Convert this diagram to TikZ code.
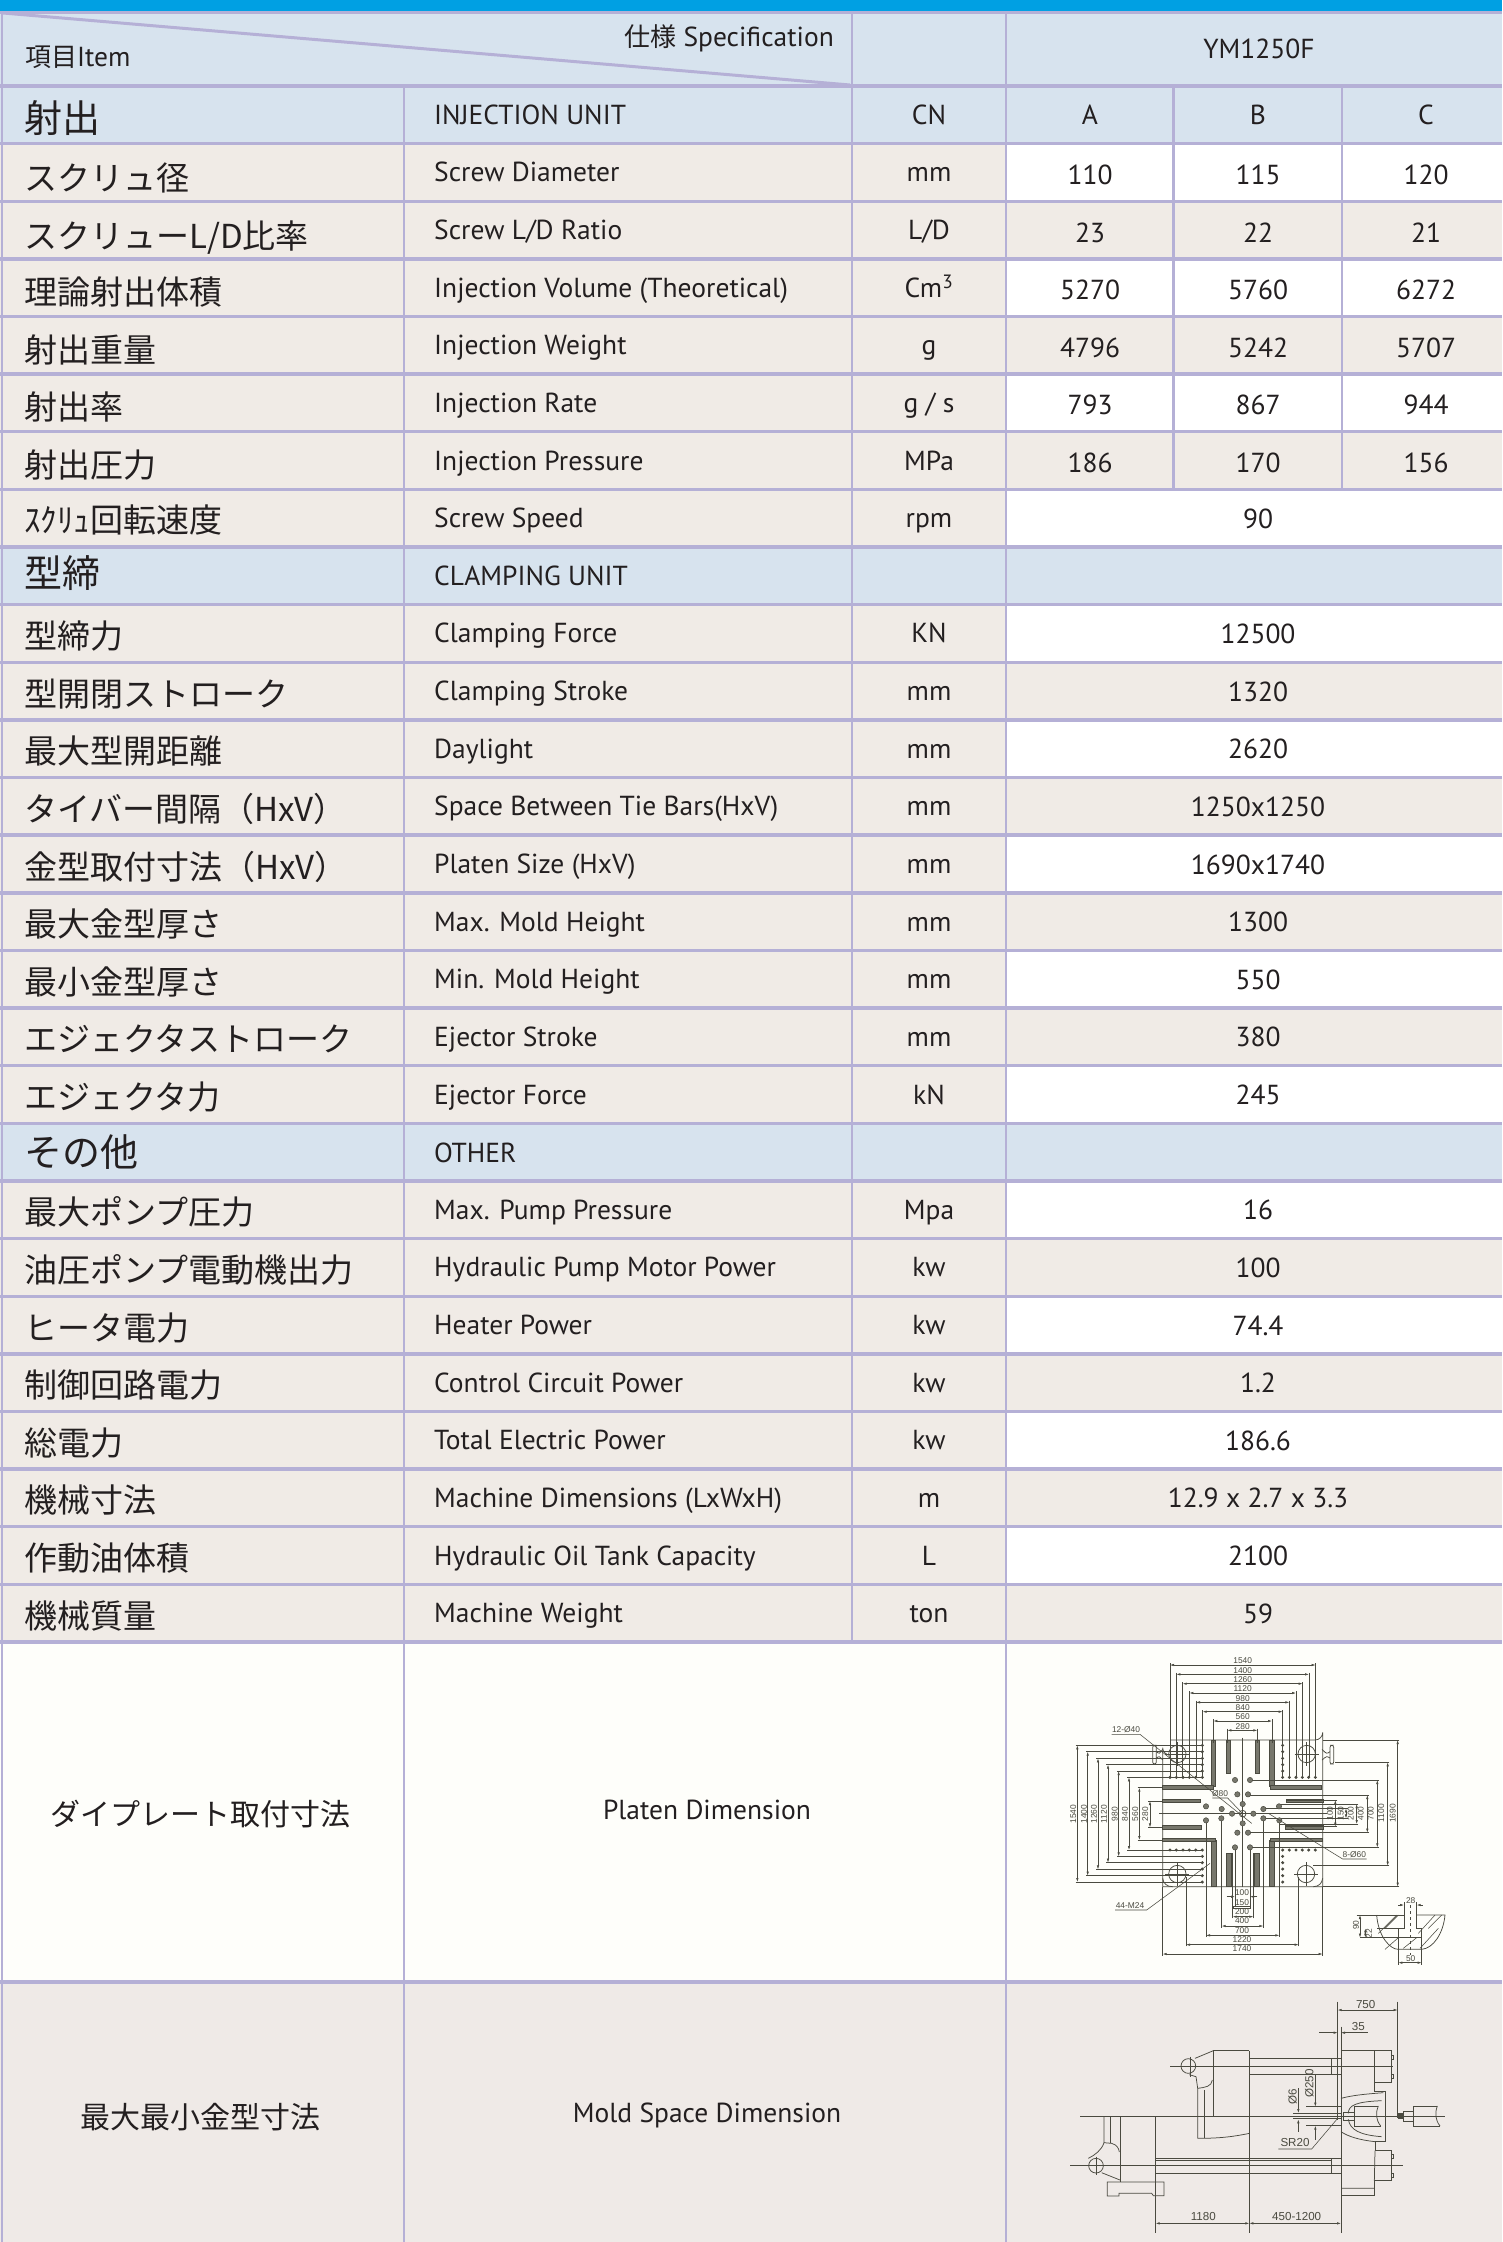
\documentclass[tikz,border=0pt]{standalone}
\usepackage{fontspec}
\usetikzlibrary{arrows.meta}
\setmainfont{PT Sans}
\newfontfamily\cjk{Noto Sans CJK JP}
\newfontfamily\arial{Liberation Sans}
\definecolor{topbar}{HTML}{00A0E3}
\definecolor{hdrblue}{HTML}{D7E3EE}
\definecolor{rowbeige}{HTML}{F0EBE6}
\definecolor{platenbg}{HTML}{FEFEFA}
\definecolor{moldbg}{HTML}{EFEAE7}
\definecolor{gridc}{HTML}{B5B0D6}
\definecolor{inkc}{HTML}{231F20}
\definecolor{drawc}{HTML}{4A4A40}
\definecolor{slotc}{HTML}{77776C}
\tikzset{
  gridln/.style={draw=gridc,line width=3.4pt},
  subln/.style={draw=gridc,line width=2.6pt},
  jptext/.style={anchor=base west,inner sep=0pt,text=inkc,font=\cjk\fontsize{33}{33}\selectfont},
  jphead/.style={anchor=base west,inner sep=0pt,text=inkc,font=\cjk\fontsize{38}{38}\selectfont},
  entext/.style={anchor=base west,inner sep=0pt,text=inkc,font=\fontsize{27.5}{28}\selectfont},
  valtext/.style={anchor=base,inner sep=0pt,text=inkc,font=\fontsize{27.5}{28}\selectfont},
  dw/.style={draw=drawc,line width=0.75pt},
  thin dw/.style={draw=drawc,line width=0.55pt},
  dimar/.style={draw=drawc,line width=0.55pt,{Latex[length=4pt,width=2.4pt]}-{Latex[length=4pt,width=2.4pt]}},
  lab/.style={inner sep=0pt,text=drawc,font=\arial\fontsize{8.4}{9}\selectfont},
  labm/.style={inner sep=0pt,text=drawc,font=\arial\fontsize{11.6}{12}\selectfont},
  slotbar/.style={fill=slotc,draw=drawc,line width=0.4pt},
  hole/.style={fill=slotc,draw=drawc,line width=0.5pt},
  dotc/.style={fill=drawc,draw=none}
}
\begin{document}
\begin{tikzpicture}[x=1pt,y=-1pt]
\useasboundingbox (0,0) rectangle (1502,2242);
\def\pitch{57.63}
\fill[white] (0,0) rectangle (1502,2242);
\fill[topbar] (0,0) rectangle (1502,11);
% header fill
\fill[hdrblue] (0,11) rectangle (1502,86);
% row fills: k / value-column fill
\foreach \k/\lf/\vf in {0/hdrblue/hdrblue,1/rowbeige/white,2/rowbeige/rowbeige,3/rowbeige/white,4/rowbeige/rowbeige,5/rowbeige/white,6/rowbeige/rowbeige,7/rowbeige/white,8/hdrblue/hdrblue,9/rowbeige/white,10/rowbeige/rowbeige,11/rowbeige/white,12/rowbeige/rowbeige,13/rowbeige/white,14/rowbeige/rowbeige,15/rowbeige/white,16/rowbeige/rowbeige,17/rowbeige/white,18/hdrblue/hdrblue,19/rowbeige/white,20/rowbeige/rowbeige,21/rowbeige/white,22/rowbeige/rowbeige,23/rowbeige/white,24/rowbeige/rowbeige,25/rowbeige/white,26/rowbeige/rowbeige}{
  \pgfmathsetmacro\ya{86+\pitch*\k}
  \pgfmathsetmacro\yb{86+\pitch*(\k+1)}
  \fill[\lf] (0,\ya) rectangle (1006,\yb);
  \fill[\vf] (1006,\ya) rectangle (1502,\yb);
}
\fill[platenbg] (0,1642) rectangle (1502,1982);
\fill[moldbg] (0,1982) rectangle (1502,2242);
% grid lines
\draw[gridln] (0,12.5) -- (1502,12.5);
\foreach \k in {0,...,27}{
  \pgfmathsetmacro\ya{86+\pitch*\k}
  \draw[gridln] (0,\ya) -- (1502,\ya);
}
\draw[gridln] (0,1982) -- (1502,1982);
\draw[subln] (2,11) -- (2,2242);
\draw[subln] (404,86) -- (404,2242);
\draw[subln] (852,11) -- (852,1642);
\draw[subln] (1006,11) -- (1006,2242);
\draw[subln] (1173.5,86) -- (1173.5,490);
\draw[subln] (1342,86) -- (1342,490);
\draw[draw=gridc,line width=3pt] (3,13) -- (850,85);
% header text
\node[anchor=base east,inner sep=0pt,text=inkc,font=\fontsize{27.5}{28}\selectfont] (spec) at (834,47) {{\cjk\fontsize{26}{26}\selectfont 仕様} Specification};
\node[anchor=base west,inner sep=0pt,text=inkc,font=\fontsize{27.5}{28}\selectfont] (item) at (25,67) {{\cjk\fontsize{26}{26}\selectfont 項目}Item};
\node[valtext] (model) at (1259,59) {YM1250F};
% rows: k / jp offset / jp / en / unit
\foreach \k/\o/\jp/\en/\un in {
 1/17/スクリュ径/Screw Diameter/mm,
 2/17/スクリューL/D比率/Screw L/D Ratio/L/D}{}
\newcommand{\trow}[6]{%
  \pgfmathsetmacro\yc{86+\pitch*(#1+0.5)}
  \node[jptext] (jp#1) at (24,\yc+#2) {#3};
  \node[entext] (en#1) at (434,\yc+9.5) {#4};
  \node[valtext] (un#1) at (929,\yc+9.5) {#5};
  \node[valtext] (val#1) at (1258,\yc+10) {#6};
}
\newcommand{\hrow}[4]{%
  \pgfmathsetmacro\yc{86+\pitch*(#1+0.5)}
  \node[jphead] (jp#1) at (24,\yc+#2) {#3};
  \node[entext] (en#1) at (434,\yc+10) {#4};
}
\hrow{0}{18}{射出}{INJECTION UNIT}
\node[valtext] (uncn) at (929,125) {CN};
\node[valtext] (hA) at (1090,125) {A};
\node[valtext] (hB) at (1258,125) {B};
\node[valtext] (hC) at (1426,125) {C};
\trow{1}{18}{スクリュ径}{Screw Diameter}{mm}{}
\trow{2}{18}{スクリューL/D比率}{Screw L/D Ratio}{L/D}{}
\trow{3}{17}{理論射出体積}{Injection Volume (Theoretical)}{Cm\textsuperscript{3}}{}
\trow{4}{17}{射出重量}{Injection Weight}{g}{}
\trow{5}{17}{射出率}{Injection Rate}{g / s}{}
\trow{6}{17}{射出圧力}{Injection Pressure}{MPa}{}
\trow{7}{14}{ｽｸﾘｭ回転速度}{Screw Speed}{rpm}{90}
\hrow{8}{12}{型締}{CLAMPING UNIT}
\trow{9}{15}{型締力}{Clamping Force}{KN}{12500}
\trow{10}{15}{型開閉ストローク}{Clamping Stroke}{mm}{1320}
\trow{11}{15}{最大型開距離}{Daylight}{mm}{2620}
\trow{12}{15}{タイバー間隔（HxV）}{Space Between Tie Bars(HxV)}{mm}{1250x1250}
\trow{13}{15}{金型取付寸法（HxV）}{Platen Size (HxV)}{mm}{1690x1740}
\trow{14}{15}{最大金型厚さ}{Max. Mold Height}{mm}{1300}
\trow{15}{15}{最小金型厚さ}{Min. Mold Height}{mm}{550}
\trow{16}{15}{エジェクタストローク}{Ejector Stroke}{mm}{380}
\trow{17}{15}{エジェクタ力}{Ejector Force}{kN}{245}
\hrow{18}{14}{その他}{OTHER}
\trow{19}{15}{最大ポンプ圧力}{Max. Pump Pressure}{Mpa}{16}
\trow{20}{15}{油圧ポンプ電動機出力}{Hydraulic Pump Motor Power}{kw}{100}
\trow{21}{15}{ヒータ電力}{Heater Power}{kw}{74.4}
\trow{22}{15}{制御回路電力}{Control Circuit Power}{kw}{1.2}
\trow{23}{15}{総電力}{Total Electric Power}{kw}{186.6}
\trow{24}{15}{機械寸法}{Machine Dimensions (LxWxH)}{m}{12.9 x 2.7 x 3.3}
\trow{25}{15}{作動油体積}{Hydraulic Oil Tank Capacity}{L}{2100}
\trow{26}{15}{機械質量}{Machine Weight}{ton}{59}
% A B C values
\foreach \k/\a/\b/\c/\n in {1/110/115/120/a,2/23/22/21/b,3/5270/5760/6272/c,4/4796/5242/5707/d,5/793/867/944/e,6/186/170/156/f}{
  \pgfmathsetmacro\yc{86+\pitch*(\k+0.5)+12}
  \node[valtext] (va\n) at (1090,\yc) {\a};
  \node[valtext] (vb\n) at (1258,\yc) {\b};
  \node[valtext] (vc\n) at (1426,\yc) {\c};
}
% bottom cells
\node[inner sep=0pt,text=inkc,font=\cjk\fontsize{30}{30}\selectfont] (pjp) at (200,1814) {ダイプレート取付寸法};
\node[anchor=base,inner sep=0pt,text=inkc,font=\fontsize{27.5}{28}\selectfont] (pen) at (707,1819) {Platen Dimension};
\node[inner sep=0pt,text=inkc,font=\cjk\fontsize{30}{30}\selectfont] (mjp) at (200,2117) {最大最小金型寸法};
\node[anchor=base,inner sep=0pt,text=inkc,font=\fontsize{27.5}{28}\selectfont] (men) at (707,2122) {Mold Space Dimension};
%%%%%%%%%%%%%%%% platen drawing (zoom coordinates, 3x)
\begin{scope}[shift={(1020,1640)},x=0.33333pt,y=-0.33333pt]
 % plate outline
 \draw[dw] (450,300) -- (885,300) arc[start angle=90,end angle=0,radius=23] -- (908,740) -- (428,740) -- (428,323) arc[start angle=180,end angle=90,radius=22];
 \draw[dw] (428,715) .. controls (430,730) and (440,740) .. (458,740);
 \draw[dw] (908,715) .. controls (906,730) and (896,740) .. (880,740);
 % tie bar holes
 \foreach \x/\y in {472/342,860/342,472/702,858/702}{
   \draw[dw] (\x,\y) circle[radius=26];
   \draw[thin dw] (\x-36,\y) -- (\x+36,\y) (\x,\y-36) -- (\x,\y+36);
 }
 % lugs
 \draw[dw,rounded corners=2pt] (398,316) rectangle (409,372);
 \draw[dw] (409,335) .. controls (418,342) .. (428,328);
 \draw[dw] (409,354) .. controls (418,348) .. (428,360);
 \draw[dw,rounded corners=2pt] (930,316) rectangle (941,372);
 \draw[dw] (930,335) .. controls (920,342) .. (906,328);
 \draw[dw] (930,354) .. controls (920,348) .. (906,360);
 % slots
 \foreach \xa/\ya/\xb/\yb in {574/300/587/438, 749/300/762/438, 618/300/632/400, 705/300/719/400,
    574/600/588/740, 749/600/762/740, 620/640/634/740, 704/640/718/740,
    428/436/580/447, 750/436/905/447, 428/478/540/488, 800/478/910/488,
    428/556/545/567, 795/556/910/567, 428/596/585/605, 750/596/908/605}{
   \draw[slotbar] (\xa,\ya) rectangle (\xb,\yb);
 }
 % top dimensions
 \foreach \y/\a/\b/\t/\v in {75/450/887/1540/412,103/469/867/1400/412,131/488/848/1260/412,159/508/828/1120/412,187/528/808/980/412,215/548/788/840/412,243/580/756/560/310,271/622/712/280/310}{
   \draw[dimar] (\a,\y) -- (\b,\y);
   \draw[thin dw] (\a,\y-5) -- (\a,\v) (\b,\y-5) -- (\b,\v);
   \node[lab] at (668,\y-12) {\t};
 }
 % left dimensions
 \foreach \x/\a/\b/\t/\v/\lx in {172/316/726/1540/547/160,203/335/707/1400/547/192,234/355/688/1260/547/222,264/374/668/1120/547/252,296/393/649/980/547/284,327/412/630/840/547/315,358/443/600/560/428/346,390/483/562/280/428/376}{
   \draw[dimar] (\x,\a) -- (\x,\b);
   \draw[thin dw] (\x-5,\a) -- (\v,\a) (\x-5,\b) -- (\v,\b);
   \node[lab,rotate=90] at (\lx,522) {\t};
 }
 % right dimensions
 \foreach \x/\a/\b/\t/\va/\vb/\lx in {1133/300/740/1690/908/908/1118,1103/367/677/1100/945/880/1084,1072/420/622/700/690/690/1052,1042/465/578/400/684/684/1022,1010/492/552/200/777/778/992,978/505/535/150/730/730/962,946/480/560/100/800/795/930}{
   \draw[dimar] (\x,\a) -- (\x,\b);
   \draw[thin dw] (\x+5,\a) -- (\va,\a) (\x+5,\b) -- (\vb,\b);
   \node[lab,rotate=90] at (\lx,520) {\t};
 }
 % bottom dimensions
 \foreach \y/\a/\b/\t/\v in {942/428/908/1740/740,914/498/836/1220/710,886/558/778/700/545,858/605/730/400/535,830/638/700/200/640}{
   \draw[dimar] (\a,\y) -- (\b,\y);
   \draw[thin dw] (\a,\y+5) -- (\a,\v) (\b,\y+5) -- (\b,\v);
   \node[lab] at (666,\y-15) {\t};
 }
 \draw[thin dw] (640,800) rectangle (692,805);
 \node[lab] at (666,788) {150};
 \draw[thin dw] (645,622) -- (645,800) (690,622) -- (690,800);
 \draw[dimar,-{Latex[length=4pt,width=2.4pt]}] (620,770) -- (645,770);
 \draw[dimar,-{Latex[length=4pt,width=2.4pt]}] (712,770) -- (690,770);
 \node[lab] at (666,758) {100};
 % centre lines
 \draw[thin dw] (668,293) -- (668,740) (418,521) -- (920,521);
 % tapped holes
 \foreach \y in {316,335,355,374,393,412}{
   \fill[dotc] (547,\y) circle[radius=5]; \fill[dotc] (788,\y) circle[radius=5];
 }
 \foreach \x in {450,469,489,508,527}{ \fill[dotc] (\x,412) circle[radius=5]; \fill[dotc] (\x,630) circle[radius=5]; }
 \foreach \x in {808,828,847,866,886}{ \fill[dotc] (\x,412) circle[radius=5]; \fill[dotc] (\x,630) circle[radius=5]; }
 \foreach \y in {630,649,668,687,707,726}{
   \fill[dotc] (547,\y) circle[radius=5]; \fill[dotc] (788,\y) circle[radius=5];
 }
 % ejector holes
 \foreach \x/\y in {645/420,690/420,652/463,684/463,668/492,558/499,605/507,636/521,700/521,730/507,777/499,604/535,558/541,668/550,730/535,778/541,652/578,684/578,645/622,690/622}{
   \draw[hole] (\x,\y) circle[radius=8];
 }
 \draw[dw] (668,521) circle[radius=10];
 % leaders
 \draw[thin dw] (275,283) -- (360,283) -- (695,550);
 \node[lab] at (318,268) {12-Ø40};
 \draw[thin dw] (577,474) -- (623,474) -- (668,521);
 \node[lab] at (600,461) {Ø80};
 \draw[thin dw] (1040,657) -- (968,657) -- (745,520);
 \node[lab] at (1003,645) {8-Ø60};
 \draw[thin dw] (285,810) -- (380,810) -- (570,670);
 \node[lab] at (330,798) {44-M24};
 % section detail
 \draw[dw] (1010,825) -- (1152,825) -- (1152,865) -- (1070,865);
 \draw[dw] (1190,825) -- (1275,825) .. controls (1270,880) and (1240,925) .. (1205,928) -- (1135,928) .. controls (1110,928) and (1075,890) .. (1070,825);
 \draw[dw] (1190,825) -- (1190,865) -- (1205,865) -- (1205,893) -- (1020,893);
 \draw[dw] (1135,865) -- (1135,975) (1205,893) -- (1205,975);
 \draw[thin dw] (1152,825) -- (1152,785) (1190,825) -- (1190,785);
 \draw[thin dw,dashed] (1172,795) -- (1172,945);
 \draw[thin dw] (1075,880) -- (1130,825) (1095,865) -- (1135,825) (1095,928) -- (1135,893) (1225,865) -- (1265,825) (1195,880) -- (1245,825) (1150,925) -- (1190,893) (1200,925) -- (1255,865);
 \draw[dimar,-{Latex[length=4pt,width=2.4pt]}] (1135,795) -- (1152,795);
 \draw[dimar,-{Latex[length=4pt,width=2.4pt]}] (1208,795) -- (1190,795);
 \node[lab] at (1172,782) {28};
 \draw[dimar] (1135,968) -- (1205,968);
 \node[lab] at (1172,955) {50};
 \draw[dimar] (1020,825) -- (1020,893);
 \node[lab,rotate=90] at (1008,855) {90};
 \draw[dimar] (1036,865) -- (1036,893);
 \node[lab,rotate=90] at (1047,880) {22};
\end{scope}
%%%%%%%%%%%%%%%% mold drawing
\begin{scope}[shift={(1020,1980)},x=0.33333pt,y=-0.33333pt]
 % axes
 \draw[dw] (180,408) -- (1275,408);
 \draw[dw] (450,258) -- (1120,258);
 \draw[dw] (150,557) -- (1150,557);
 % moving platen
 \draw[dw] (580,408) -- (580,212) -- (688,212);
 \draw[dw] (688,212) -- (688,760);
 \draw[dw] (580,212) -- (525,235) (533,475) -- (533,325) -- (528,290) -- (508,284);
 \draw[dw] (505,258) circle[radius=22];
 \draw[dw] (512,230) -- (512,290);
 \draw[dw] (533,325) .. controls (555,322) and (575,320) .. (577,300);
 \draw[dw] (553,330) -- (553,475);
 \draw[dw] (533,475) .. controls (600,475) and (640,470) .. (688,460);
 % upper tie bar
 \draw[dw] (688,236) -- (963,236) (688,282) -- (688,282) (688,282) -- (963,282);
 \draw[dw] (935,236) -- (935,282);
 % fixed platen
 \draw[dw] (963,140) -- (963,760);
 \draw[dw] (963,212) -- (1113,212) -- (1113,308) -- (1063,308) -- (1063,212);
 \draw[dw] (1063,308) -- (1063,335) -- (1095,335) -- (1095,485) -- (1065,485) -- (1065,512) -- (1113,512) -- (1113,602) -- (1063,602) -- (1063,647) -- (963,647);
 \draw[dw] (963,625) -- (1063,625) (1065,512) -- (1063,602);
 \foreach \x/\y in {1116/232,1116/288,1116/530,1116/587}{ \draw[dw] (\x-3,\y-6) rectangle (\x+4,\y+6); }
 % nozzle seat
 \draw[dw] (963,355) .. controls (1000,345) and (1040,342) .. (1090,338);
 \draw[dw] (985,400) .. controls (985,375) and (1010,365) .. (1085,362);
 \draw[dw] (963,455) .. controls (985,470) and (1020,480) .. (1065,485);
 \draw[dw] (985,418) .. controls (990,450) and (1020,465) .. (1085,470);
 \draw[dw] (1075,378) -- (1003,378) -- (1003,438) -- (1082,438);
 \draw[dw] (1075,378) .. controls (1066,400) and (1068,420) .. (1082,438);
 \draw[dw] (970,396) rectangle (1003,422);
 % injection unit
 \draw[dw] (1133,65) -- (1133,415);
 \draw[dw] (1252,378) -- (1180,378) -- (1180,438) -- (1260,438);
 \draw[dw] (1252,378) .. controls (1244,400) and (1246,420) .. (1260,438);
 \draw[dw] (1150,395) rectangle (1180,424);
 \fill[drawc] (1135,400) rectangle (1150,416);
 % nozzle
 \fill[drawc] (820,399) rectangle (963,403);
 \fill[drawc] (820,414) rectangle (963,418);
 \draw[thin dw] (858,380) -- (963,380) (858,437) -- (963,437);
 % dims 750, 35
 \draw[thin dw] (953,65) -- (953,420);
 \draw[dimar] (953,90) -- (1133,90);
 \node[labm] at (1037,72) {750};
 \draw[dimar,-{Latex[length=4pt,width=2.4pt]}] (897,158) -- (953,158);
 \draw[dimar,-{Latex[length=4pt,width=2.4pt]}] (1043,158) -- (963,158);
 \node[labm] at (1015,140) {35};
 % Ø6, Ø250
 \draw[dimar,-{Latex[length=4pt,width=2.4pt]}] (835,325) -- (835,399);
 \draw[dimar,-{Latex[length=4pt,width=2.4pt]}] (835,455) -- (835,418);
 \node[labm,rotate=90] at (818,350) {Ø6};
 \draw[dimar,-{Latex[length=4pt,width=2.4pt]}] (886,282) -- (886,380);
 \draw[dimar,-{Latex[length=4pt,width=2.4pt]}] (886,480) -- (886,437);
 \node[labm,rotate=90] at (868,310) {Ø250};
 \draw[thin dw] (890,282) -- (935,282);
 % SR20
 \draw[thin dw] (775,507) -- (875,507) -- (953,415);
 \node[labm] at (825,487) {SR20};
 % lower unit
 \draw[dw] (407,408) -- (407,760);
 \draw[dw] (300,408) -- (300,605);
 \draw[dw] (252,408) -- (252,488) -- (275,490) .. controls (292,495) and (296,505) .. (298,516);
 \draw[dw] (270,408) -- (270,488);
 \draw[dw] (205,535) .. controls (225,525) and (245,510) .. (252,488);
 \draw[dw] (228,557) circle[radius=22];
 \draw[dw] (228,530) -- (228,585);
 \draw[dw] (245,578) -- (300,600);
 \draw[dw] (262,606) -- (432,606) -- (432,647) -- (400,647) -- (395,640) -- (297,640) -- (297,648) -- (262,648) -- cycle;
 % lower tie bar
 \draw[dw] (407,534) -- (963,534) (407,542) -- (935,542) (407,580) -- (963,580);
 \draw[dw] (935,534) -- (935,580);
 % bottom dims
 \draw[dimar] (407,730) -- (688,730);
 \draw[dimar] (688,730) -- (963,730);
 \node[labm] at (550,708) {1180};
 \node[labm] at (830,708) {450-1200};
\end{scope}
\end{tikzpicture}
\end{document}
